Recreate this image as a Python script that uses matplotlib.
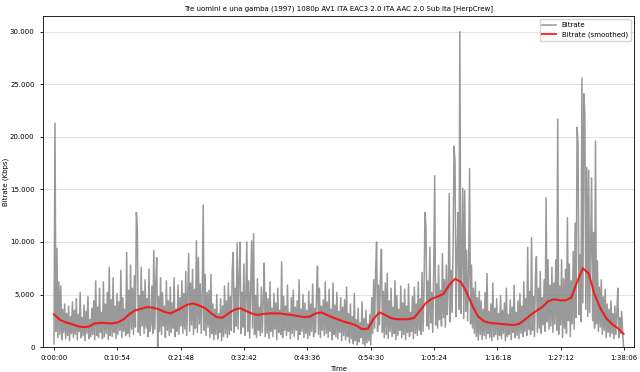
import matplotlib
matplotlib.use("Agg")
import matplotlib.pyplot as plt
from matplotlib.ticker import FuncFormatter
import numpy as np

title = "Tre uomini e una gamba (1997) 1080p AV1 ITA EAC3 2.0 ITA AAC 2.0 Sub Ita [HerpCrew]"

# bitrate samples (Kbps), one every 10 s
bitrate = [
    300, 21300, 1500, 9400, 900, 6200, 1200, 5800, 700, 3600, 1400, 4100, 800, 3200, 1100, 3900, 600, 2900, 1300, 4300,
    900, 3500, 1200, 4600, 700, 3100, 1500, 5200, 900, 2800, 1100, 4000, 600, 3400, 1300, 4800, 800, 2600, 1000, 3700,
    1200, 4400, 700, 6300, 1100, 3800, 900, 5600, 1400, 3300, 800, 6200, 1000, 4100, 1300, 5200, 700, 7600, 1100, 4500,
    1000, 6600, 1400, 3900, 800, 5100, 1200, 4300, 1600, 7300, 900, 4700, 1500, 3600, 1100, 9000, 1300, 5400, 1000, 7800,
    1700, 5600, 1200, 6800, 1900, 12800, 11400, 1400, 4900, 1100, 7600, 2000, 5300, 1300, 6400, 1800, 4600, 1000, 7400, 1500,
    2100, 5800, 1300, 9200, 1700, 6100, 8500, 0, 4800, 1500, 6600, 1200, 5200, 2000, 3900, 900, 6300, 1600, 4400, 1100,
    5700, 1400, 4200, 1800, 6600, 1000, 3600, 1500, 5900, 1200, 4700, 2000, 6300, 1300, 5100, 1700, 7200, 1100, 4900, 8900,
    1500, 6100, 2100, 7400, 1200, 5500, 1800, 10100, 1400, 8500, 2200, 6000, 1300, 4800, 13500, 1600, 6900, 1100, 5200, 1900,
    5400, 900, 6900, 1300, 4100, 700, 3600, 1200, 5000, 800, 3200, 1400, 4600, 600, 3900, 1000, 5800, 1300, 4400, 900,
    6100, 1200, 4800, 1600, 7300, 9000, 1400, 5600, 2000, 9900, 1700, 6700, 10000, 1300, 5200, 1900, 7900, 1100, 4600, 10000,
    1500, 6300, 850, 5400, 10100, 1800, 10800, 1200, 4900, 900, 6500, 1600, 3800, 1100, 5700, 1400, 4300, 8000, 1000, 5200,
    1300, 4600, 800, 6200, 1500, 3700, 1000, 5100, 1700, 4200, 700, 5600, 1400, 3500, 1200, 8100, 900, 4800, 1600, 3900,
    1100, 5900, 1500, 3300, 800, 4700, 1300, 5400, 1000, 3800, 1600, 4400, 700, 6400, 1200, 3600, 1500, 5000, 900, 4200,
    1300, 3500, 800, 5300, 1100, 4100, 1500, 6000, 1000, 3700, 1400, 4900, 7700, 1200, 5600, 900, 3900, 1600, 4500, 1100,
    6200, 1300, 4300, 900, 5500, 1500, 3600, 700, 6100, 1200, 4000, 1000, 5200, 800, 3400, 1400, 4700, 600, 3800, 1100,
    4500, 700, 5700, 1000, 3200, 400, 4100, 800, 2900, 300, 5100, 600, 2600, 200, 3700, 500, 2300, 900, 4300, 300,
    2700, 100, 3500, 400, 2200, 600, 3100, 200, 4700, 1300, 6400, 1800, 7200, 10000, 1500, 5900, 2100, 6800, 9300, 1400,
    5300, 900, 6100, 1200, 7000, 800, 4400, 1500, 5600, 1000, 3800, 1300, 6300, 700, 4900, 1100, 3600, 1600, 5800, 900,
    4200, 1200, 5500, 700, 3900, 1400, 6000, 1000, 3300, 1500, 4800, 800, 5700, 1300, 4100, 1100, 6200, 1600, 4600, 1200,
    7100, 1500, 5600, 12800, 11400, 2000, 6300, 1700, 9500, 2300, 5200, 1400, 7400, 16300, 2100, 6000, 1800, 7800, 2600, 5400,
    2000, 8900, 2800, 6400, 1900, 7800, 3100, 5700, 14600, 2400, 7300, 3300, 9800, 19100, 17600, 2900, 8600, 12800, 3600, 30000,
    3200, 7900, 15100, 2700, 14900, 3400, 9200, 2500, 6800, 17000, 2200, 7800, 1800, 5600, 1300, 6200, 1000, 4700, 650, 5300,
    1200, 4400, 700, 3600, 1100, 5200, 800, 7000, 1300, 3400, 900, 4100, 600, 6100, 1000, 3700, 1200, 4600, 700, 3200,
    1100, 4900, 800, 3500, 1300, 4200, 600, 5600, 1000, 3100, 1200, 4500, 700, 3800, 1400, 5900, 900, 3300, 1100, 4400,
    800, 5100, 1300, 3900, 1000, 6200, 1500, 4600, 1100, 9500, 1700, 5300, 1200, 10400, 1600, 4800, 1000, 6700, 8600, 1400,
    5600, 1800, 7200, 1300, 4700, 2100, 6400, 1500, 14200, 2400, 8300, 1700, 5900, 2000, 7600, 1400, 6100, 2200, 8300, 1600,
    21700, 1200, 5800, 2100, 8300, 900, 6500, 1800, 7400, 1300, 12300, 2500, 7900, 1000, 6300, 2200, 9100, 1700, 11800, 2800,
    20900, 19400, 3100, 8800, 2400, 25600, 4200, 24100, 22100, 3600, 17100, 2900, 16800, 3300, 9600, 16100, 2500, 10900, 1800, 19600,
    2200, 8200, 1500, 5700, 1900, 6400, 1200, 4800, 1600, 5500, 900, 4100, 1400, 3600, 1000, 4400, 1300, 3200, 800, 3900,
    1200, 3100, 5600, 900, 2800, 1300, 3400, 1500, 0,
]
bitrate_t = np.arange(len(bitrate)) * 10

# smoothed bitrate, read every 60 s
smooth = [
    3100, 2600, 2350, 2200, 2000, 1900, 1950, 2250, 2300, 2280,
    2250, 2350, 2650, 3150, 3500, 3650, 3800, 3750, 3600, 3350,
    3200, 3450, 3750, 4050, 4150, 3950, 3700, 3250, 2850, 2800,
    3200, 3550, 3700, 3450, 3200, 3050, 3150, 3200, 3200, 3200,
    3100, 3050, 2950, 2850, 2900, 3200, 3300, 3050, 2800, 2600,
    2400, 2250, 2050, 1700, 1750, 2700, 3300, 3050, 2750, 2650,
    2650, 2650, 2800, 3500, 4200, 4600, 4800, 5050, 5900, 6500,
    6200, 5200, 3900, 2900, 2450, 2300, 2250, 2200, 2150, 2100,
    2200, 2600, 3050, 3450, 3800, 4350, 4550, 4450, 4450, 4700,
    6200, 7500, 7000, 5000, 3700, 2750, 2200, 1800, 1250,
]
smooth_t = np.arange(len(smooth)) * 60


def hms(v, pos):
    v = int(round(v))
    return f"{v // 3600}:{v % 3600 // 60:02d}:{v % 60:02d}"


fig = plt.figure(figsize=(6.4, 3.72), dpi=100)
ax = fig.add_axes([0.067, 0.067, 0.924, 0.89])

ax.plot(bitrate_t, bitrate, color="gray", alpha=0.8, linewidth=1.1, label="Bitrate")
ax.plot(smooth_t, smooth, color="red", alpha=0.8, linewidth=1.5, label="Bitrate (smoothed)")

ax.set_xlim(-115, 5990)
ax.set_ylim(0, 31500)
ax.set_xticks(np.arange(0, 5887, 654))
ax.xaxis.set_major_formatter(FuncFormatter(hms))
ax.set_yticks(np.arange(0, 30001, 5000))
ax.yaxis.set_major_formatter(FuncFormatter(lambda v, p: f"{int(v):,}".replace(",", ".")))
ax.tick_params(labelsize=5, length=2.5, width=0.6)
ax.grid(axis="y", color="#dddddd", linewidth=0.6)
ax.set_axisbelow(True)
for s in ax.spines.values():
    s.set_linewidth(0.6)

ax.set_title(title, fontsize=5.0, pad=4)
ax.set_xlabel("Time", fontsize=5, labelpad=3)
ax.set_ylabel("Bitrate (Kbps)", fontsize=5)
ax.yaxis.set_label_coords(-0.058, 0.5)
ax.legend(loc="upper right", fontsize=5)

fig.savefig("out.png", dpi=100)
